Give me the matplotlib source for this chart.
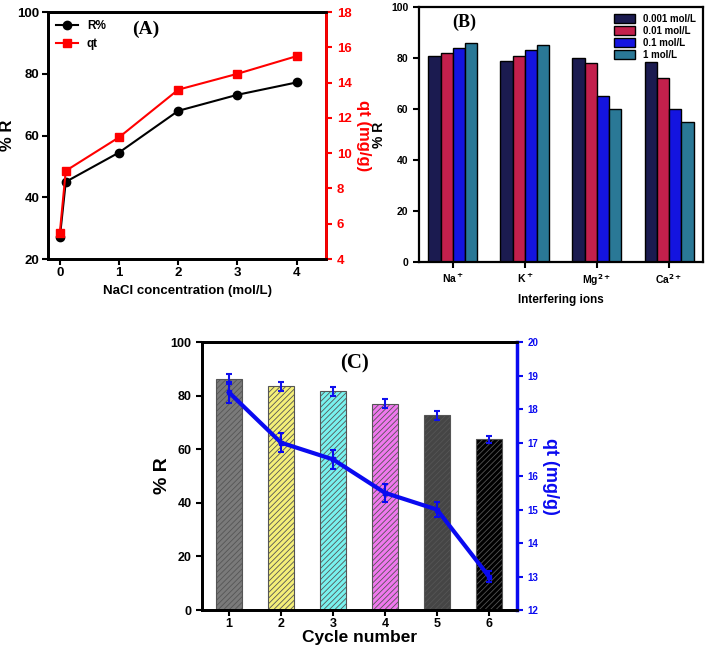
import numpy as np
import matplotlib
matplotlib.use("Agg")
import matplotlib.pyplot as plt

# Panel A: effect of NaCl concentration
nacl = [0, 0.1, 1, 2, 3, 4]
r_nacl = [27.0, 45.0, 54.5, 68.0, 73.2, 77.2]
qt_nacl = [5.5, 9.0, 10.9, 13.6, 14.5, 15.5]

# Panel B: interfering ions
ions = ["Na$^+$", "K$^+$", "Mg$^{2+}$", "Ca$^{2+}$"]
conc_labels = ["0.001 mol/L", "0.01 mol/L", "0.1 mol/L", "1 mol/L"]
r_ions = [
    [81, 79, 80, 78.5],
    [82, 81, 78, 72],
    [84, 83, 65, 60],
    [86, 85, 60, 55],
]
ion_colors = ["#1b1b50", "#c3204c", "#1414e0", "#2a7896"]

# Panel C: reuse cycles
cycles = [1, 2, 3, 4, 5, 6]
r_cycle = [86.3, 83.6, 81.7, 77.1, 72.7, 63.7]
r_cycle_err = [1.8, 1.7, 1.7, 1.6, 1.6, 1.3]
qt_cycle = [18.5, 17.0, 16.5, 15.5, 15.0, 13.0]
qt_cycle_err = [0.32, 0.28, 0.28, 0.26, 0.22, 0.16]
cycle_colors = ["#7a7a7a", "#f4ef78", "#78f2ee", "#f078ee", "#454545", "#000000"]

plt.rcParams["font.family"] = ["Liberation Sans", "DejaVu Sans"]
plt.rcParams["font.weight"] = "bold"
plt.rcParams["hatch.linewidth"] = 0.6

fig = plt.figure(figsize=(7.1, 6.5), dpi=100)


def style_axis(ax, lw=2.0):
    for s in ax.spines.values():
        s.set_linewidth(lw)
    ax.tick_params(width=1.5, length=4, direction="out")
    for lab in ax.get_xticklabels() + ax.get_yticklabels():
        lab.set_fontweight("bold")


# ---- (A)
axA = fig.add_axes([0.0676, 0.6015, 0.392, 0.380])
axA.plot(nacl, r_nacl, "-o", color="black", ms=6, lw=1.5, label="R%")
axA.set_xlim(-0.2, 4.5)
axA.set_ylim(20, 100)
axA.set_xticks([0, 1, 2, 3, 4])
axA.set_yticks([20, 40, 60, 80, 100])
axA.set_xlabel("NaCl concentration (mol/L)", fontsize=9.5, fontweight="bold")
axA.set_ylabel("% R", fontsize=12, fontweight="bold")
axA.yaxis.set_label_coords(-0.12, 0.5)
axA.tick_params(labelsize=9.5, pad=2)
axA2 = axA.twinx()
axA2.plot(nacl, qt_nacl, "-s", color="#ff0000", ms=5.5, lw=1.5, label="qt")
axA2.set_ylim(4, 18)
axA2.set_yticks([4, 6, 8, 10, 12, 14, 16, 18])
axA2.set_ylabel("qt (mg/g)", fontsize=12, fontweight="bold", color="#ff0000",
                rotation=270, labelpad=14)
axA2.tick_params(axis="y", colors="#ff0000", labelsize=9.5)
style_axis(axA)
style_axis(axA2)
axA2.spines["right"].set_color("#ff0000")
h1, l1 = axA.get_legend_handles_labels()
h2, l2 = axA2.get_legend_handles_labels()
axA.legend(h1 + h2, l1 + l2, loc="upper left", frameon=False,
           handlelength=1.8, borderaxespad=0.3, prop={"weight": "bold", "size": 8.5})
axA.text(0.35, 0.93, "(A)", transform=axA.transAxes, fontsize=14, fontweight="bold",
         family="Liberation Serif", ha="center", va="center")

# ---- (B)
axB = fig.add_axes([0.590, 0.597, 0.400, 0.392])
x = np.arange(len(ions))
w = 0.17
for i in range(4):
    axB.bar(x + (i - 1.5) * w, r_ions[i], w, color=ion_colors[i], edgecolor="black",
            lw=1.0, label=conc_labels[i])
axB.set_xlim(-0.47, 3.47)
axB.set_ylim(0, 100)
axB.set_xticks(x)
axB.set_xticklabels(ions)
axB.set_yticks([0, 20, 40, 60, 80, 100])
axB.set_xlabel("Interfering ions", fontsize=8.5, fontweight="bold")
axB.set_ylabel("% R", fontsize=10, fontweight="bold")
axB.tick_params(labelsize=7.5)
style_axis(axB, 1.6)
axB.legend(loc="upper right", frameon=False, handlelength=2.2,
           handleheight=1.0, labelspacing=0.2, borderaxespad=0.3,
           prop={"weight": "bold", "size": 7})
axB.text(0.16, 0.94, "(B)", transform=axB.transAxes, fontsize=13, fontweight="bold",
         family="Liberation Serif", ha="center", va="center")

# ---- (C)
axC = fig.add_axes([0.2845, 0.0615, 0.4437, 0.412])
for c, r, col in zip(cycles, r_cycle, cycle_colors):
    axC.bar(c, r, 0.5, color=col, edgecolor="#555555", hatch="//////", lw=0.8)
axC.errorbar(cycles, r_cycle, yerr=r_cycle_err, fmt="none", ecolor="#1010ee",
             capsize=2.5, elinewidth=1.5, capthick=1.5)
axC.set_xlim(0.48, 6.54)
axC.set_ylim(0, 100)
axC.set_xticks(cycles)
axC.set_yticks([0, 20, 40, 60, 80, 100])
axC.set_xlabel("Cycle number", fontsize=12.5, fontweight="bold", labelpad=0)
axC.set_ylabel("% R", fontsize=14, fontweight="bold", labelpad=0)
axC.tick_params(labelsize=9)
axC.tick_params(axis="x", pad=2)
axC2 = axC.twinx()
axC2.errorbar(cycles, qt_cycle, yerr=qt_cycle_err, color="#0a0af0", lw=3,
              marker="s", ms=3, capsize=2.5, elinewidth=1.5, capthick=1.5)
axC2.set_ylim(12, 20)
axC2.set_yticks(range(12, 21))
axC2.set_ylabel("qt (mg/g)", fontsize=13, fontweight="bold", color="#0a0af0",
                rotation=270, labelpad=15)
axC2.tick_params(axis="y", colors="#0a0af0", labelsize=7)
style_axis(axC)
style_axis(axC2)
axC2.spines["right"].set_color("#0a0af0")
axC2.spines["right"].set_linewidth(2.5)
axC.text(0.485, 0.92, "(C)", transform=axC.transAxes, fontsize=15, fontweight="bold",
         family="Liberation Serif", ha="center", va="center")

fig.savefig("out.png", dpi=100)
